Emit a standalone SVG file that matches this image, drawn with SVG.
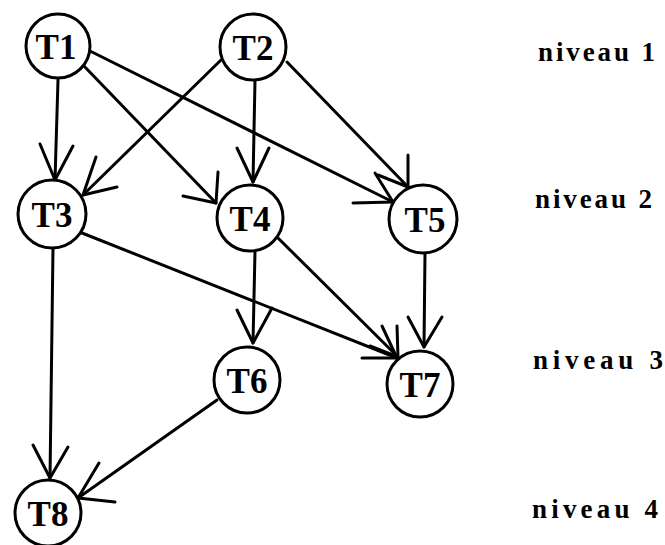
<svg xmlns="http://www.w3.org/2000/svg" width="665" height="545" viewBox="0 0 665 545">
<style>
.e{fill:none;stroke:#000;stroke-width:3;stroke-linecap:round;stroke-linejoin:round}
.n{fill:#fff;stroke:#000;stroke-width:3}
.t{font-family:"Liberation Serif",serif;font-weight:bold;font-size:35px;text-anchor:middle;fill:#000}
.l{font-family:"Liberation Serif",serif;font-weight:bold;font-size:27px;fill:#000}
</style>
<rect width="665" height="545" fill="#fff"/>
<g id="connectors">
  <g id="e-T1-T3"><path class="e" d="M58,80 L55,180"/><polyline class="e" points="40,144 55,180 73,146"/></g>
  <g id="e-T1-T4"><path class="e" d="M83,65 L216,203"/><polyline class="e" points="218,172 216,203 183,196"/></g>
  <g id="e-T1-T5"><path class="e" d="M90,51 L393,202"/><polyline class="e" points="353,203 393,202 375,173"/></g>
  <g id="e-T2-T3"><path class="e" d="M221,60 L83,195"/><polyline class="e" points="96,157 83,195 117,187"/></g>
  <g id="e-T2-T4"><path class="e" d="M255,80 L253,182"/><polyline class="e" points="237,148 253,182 269,148"/></g>
  <g id="e-T2-T5"><path class="e" d="M287,62 L408,187"/><polyline class="e" points="408,155 408,187 378,175"/></g>
  <g id="e-T3-T8"><path class="e" d="M53,248 L50,478"/><polyline class="e" points="33,445 50,478 68,447"/></g>
  <g id="e-T3-T7"><path class="e" d="M82,233 L397,358"/><polyline class="e" points="362,358 397,358 382,326"/></g>
  <g id="e-T4-T6"><path class="e" d="M255,251 L253,343"/><polyline class="e" points="237,310 253,343 272,308"/></g>
  <g id="e-T4-T7"><path class="e" d="M278,238 L398,357"/><polyline class="e" points="397,326 398,357 370,346"/></g>
  <g id="e-T5-T7"><path class="e" d="M425,253 L424,347"/><polyline class="e" points="408,317 424,347 442,317"/></g>
  <g id="e-T6-T8"><path class="e" d="M217,400 L78,498"/><polyline class="e" points="99,463 78,498 115,502"/></g>
</g>
<g id="T1"><circle class="n" cx="58" cy="46" r="32"/><text class="t" x="56" y="59">T1</text></g>
<g id="T2"><circle class="n" cx="253" cy="47" r="33"/><text class="t" x="253" y="60">T2</text></g>
<g id="T3"><circle class="n" cx="52" cy="214" r="34"/><text class="t" x="52" y="227">T3</text></g>
<g id="T4"><circle class="n" cx="250" cy="218" r="33"/><text class="t" x="250" y="231">T4</text></g>
<g id="T5"><circle class="n" cx="423" cy="219" r="34"/><text class="t" x="425" y="232">T5</text></g>
<g id="T6"><circle class="n" cx="247" cy="380" r="33"/><text class="t" x="247" y="393">T6</text></g>
<g id="T7"><circle class="n" cx="420" cy="384" r="33"/><text class="t" x="420" y="397">T7</text></g>
<g id="T8"><circle class="n" cx="48" cy="513" r="33"/><text class="t" x="48" y="526">T8</text></g>
<g id="levels">
  <text class="l" x="538" y="61" textLength="117" lengthAdjust="spacing">niveau 1</text>
  <text class="l" x="535" y="208" textLength="117" lengthAdjust="spacing">niveau 2</text>
  <text class="l" x="533" y="369" textLength="130" lengthAdjust="spacing">niveau 3</text>
  <text class="l" x="532" y="518" textLength="126" lengthAdjust="spacing">niveau 4</text>
</g>
</svg>
